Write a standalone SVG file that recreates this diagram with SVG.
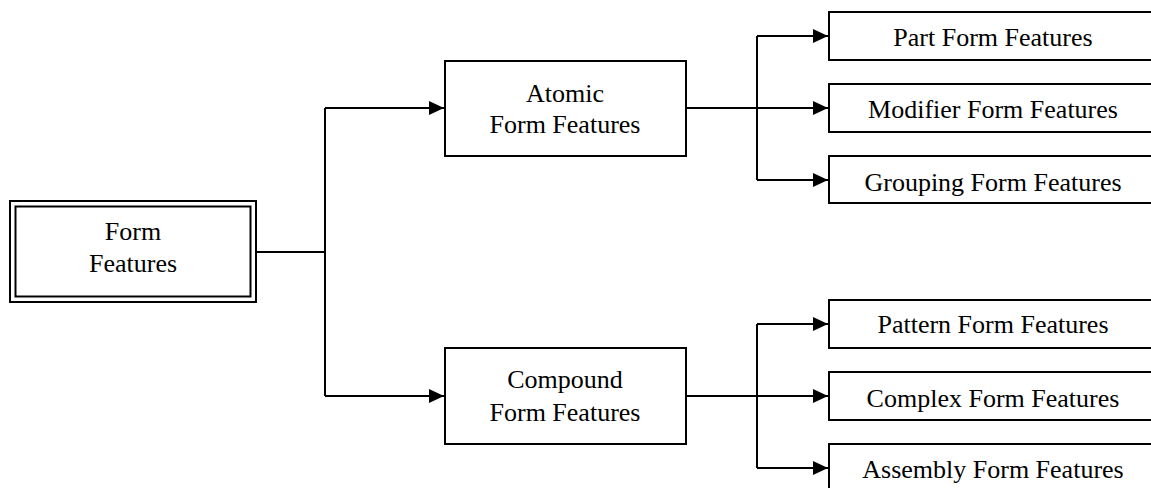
<svg xmlns="http://www.w3.org/2000/svg" width="1151" height="488" viewBox="0 0 1151 488">
  <style>
    .box { fill: #ffffff; stroke: #000000; stroke-width: 2; }
    .link { fill: none; stroke: #000000; stroke-width: 2; }
    .label { font-family: "Liberation Serif", "Times New Roman", serif; font-size: 26px; fill: #000000; text-anchor: middle; }
  </style>
  <defs>
    <marker id="arrow" viewBox="0 0 15 14" refX="15" refY="7" markerWidth="15" markerHeight="14" markerUnits="userSpaceOnUse" orient="auto">
      <path d="M0,0 L15,7 L0,14 Z" fill="#000000"/>
    </marker>
  </defs>

  <rect width="1151" height="488" fill="#ffffff"/>

  <!-- connectors -->
  <g id="connectors">
    <path class="link" d="M256,252 H325" stroke-width="1.6"/>
    <path class="link" d="M325,108 V396"/>
    <path class="link" d="M325,108 H444" marker-end="url(#arrow)"/>
    <path class="link" d="M325,396 H444" marker-end="url(#arrow)"/>

    <path class="link" d="M686,108 H757"/>
    <path class="link" d="M757,36 V180"/>
    <path class="link" d="M757,36 H828" marker-end="url(#arrow)"/>
    <path class="link" d="M757,108 H828" marker-end="url(#arrow)"/>
    <path class="link" d="M757,180 H828" marker-end="url(#arrow)"/>

    <path class="link" d="M686,396 H757"/>
    <path class="link" d="M757,324 V468"/>
    <path class="link" d="M757,324 H828" marker-end="url(#arrow)"/>
    <path class="link" d="M757,396 H828" marker-end="url(#arrow)"/>
    <path class="link" d="M757,468 H828" marker-end="url(#arrow)"/>
  </g>

  <!-- root node: double border -->
  <g id="form-features">
    <rect class="box" x="10" y="201" width="246" height="101" stroke-width="2.5"/>
    <rect class="box" x="15.5" y="206.5" width="235" height="90"/>
    <text class="label" x="133" y="240">Form</text>
    <text class="label" x="133" y="272">Features</text>
  </g>

  <g id="atomic">
    <rect class="box" x="445" y="61" width="241" height="95"/>
    <text class="label" x="565" y="102">Atomic</text>
    <text class="label" x="565" y="133">Form Features</text>
  </g>

  <g id="compound">
    <rect class="box" x="445" y="348" width="241" height="96"/>
    <text class="label" x="565" y="388">Compound</text>
    <text class="label" x="565" y="421">Form Features</text>
  </g>

  <g id="part">
    <rect class="box" x="829" y="12" width="330" height="48"/>
    <text class="label" x="993" y="46">Part Form Features</text>
  </g>
  <g id="modifier">
    <rect class="box" x="829" y="84" width="330" height="48"/>
    <text class="label" x="993" y="118">Modifier Form Features</text>
  </g>
  <g id="grouping">
    <rect class="box" x="829" y="156" width="330" height="47"/>
    <text class="label" x="993" y="191">Grouping Form Features</text>
  </g>

  <g id="pattern">
    <rect class="box" x="829" y="300" width="330" height="48"/>
    <text class="label" x="993" y="333">Pattern Form Features</text>
  </g>
  <g id="complex">
    <rect class="box" x="829" y="372" width="330" height="48"/>
    <text class="label" x="993" y="407">Complex Form Features</text>
  </g>
  <g id="assembly">
    <rect class="box" x="829" y="444" width="330" height="60"/>
    <text class="label" x="993" y="478">Assembly Form Features</text>
  </g>
</svg>
